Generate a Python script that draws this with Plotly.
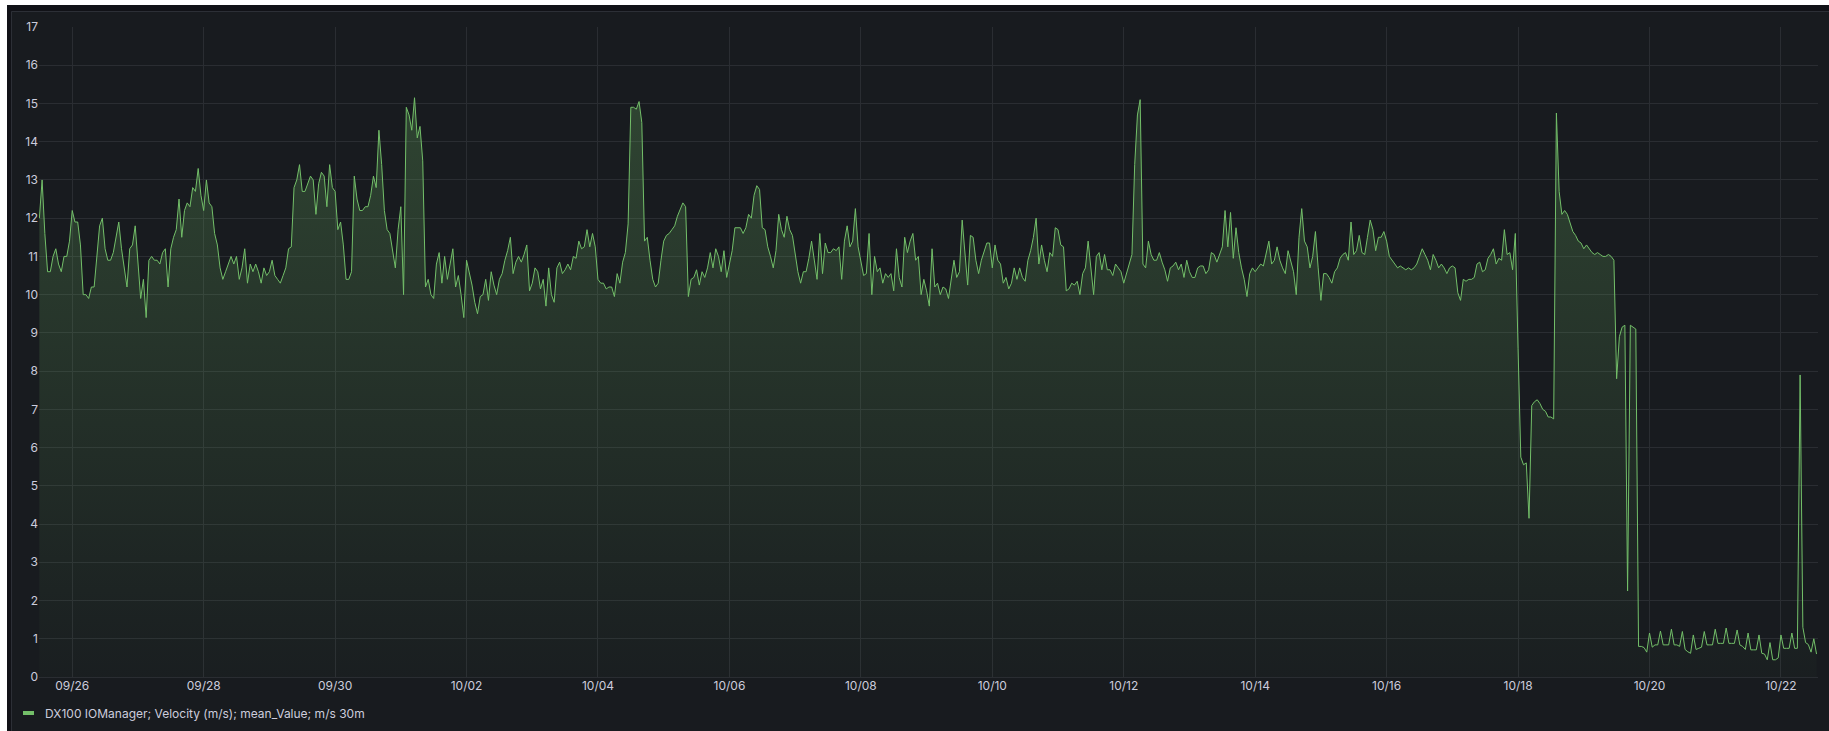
import pandas as pd
import plotly.graph_objects as go

# ---------------- data (hourly reading of the 30m mean series) ----------------
series_name = "DX100 IOManager; Velocity (m/s); mean_Value; m/s 30m"
start_time = "2023-09-25 12:00"

v_0925 = [12.0, 13.0, 11.6, 10.6, 10.6, 11.0, 11.2, 10.8, 10.6, 11.0, 11.0, 11.4]
v_0926 = [12.2, 11.9, 11.9, 11.3, 10.0, 10.0, 9.9, 10.2, 10.2, 11.0, 11.8, 12.0,
          11.2, 10.9, 10.9, 11.1, 11.5, 11.9, 11.2, 10.7, 10.2, 11.2, 11.3, 11.8]
v_0927 = [10.8, 9.9, 10.4, 9.4, 10.9, 11.0, 10.9, 10.9, 10.8, 11.1, 11.2, 10.2,
          11.2, 11.5, 11.7, 12.5, 11.5, 12.2, 12.4, 12.3, 12.8, 12.7, 13.3, 12.6]
v_0928 = [12.2, 13.0, 12.4, 12.3, 11.6, 11.3, 10.7, 10.4, 10.6, 10.8, 11.0, 10.8,
          11.0, 10.4, 10.7, 11.2, 10.3, 10.8, 10.6, 10.8, 10.6, 10.3, 10.7, 10.5]
v_0929 = [10.6, 10.9, 10.5, 10.4, 10.3, 10.5, 10.7, 11.2, 11.25, 12.8, 13.0, 13.4,
          12.7, 12.7, 12.9, 13.1, 13.0, 12.1, 12.9, 13.2, 13.1, 12.3, 13.4, 12.8]
v_0930 = [12.7, 11.7, 11.9, 11.3, 10.4, 10.4, 10.6, 13.1, 12.5, 12.2, 12.2, 12.3,
          12.3, 12.6, 13.1, 12.8, 14.3, 13.4, 12.2, 11.7, 11.6, 11.2, 10.7, 11.7]
v_1001 = [12.3, 10.0, 14.9, 14.7, 14.3, 15.15, 14.1, 14.4, 13.5, 10.2, 10.4, 10.0,
          9.9, 10.8, 11.1, 10.3, 11.0, 10.4, 10.8, 11.2, 10.2, 10.5, 10.0, 9.4]
v_1002 = [10.9, 10.6, 10.25, 9.8, 9.5, 9.95, 10.0, 10.4, 9.85, 10.6, 10.25, 10.0,
          10.4, 10.55, 10.9, 11.15, 11.5, 10.55, 10.85, 11.0, 10.85, 11.05, 11.3, 10.1]
v_1003 = [10.3, 10.7, 10.6, 10.15, 10.4, 9.7, 10.7, 10.0, 9.8, 10.7, 10.85, 10.55,
          10.65, 10.8, 10.65, 11.0, 10.95, 11.4, 11.2, 11.25, 11.7, 11.25, 11.6, 11.25]
v_1004 = [10.4, 10.3, 10.3, 10.15, 10.2, 10.2, 9.95, 10.55, 10.3, 10.85, 11.1, 11.85,
          14.9, 14.9, 14.85, 15.05, 14.5, 11.4, 11.5, 10.9, 10.4, 10.2, 10.3, 10.9]
v_1005 = [11.4, 11.55, 11.6, 11.7, 11.8, 12.05, 12.25, 12.4, 12.3, 9.95, 10.4, 10.45,
          10.65, 10.25, 10.6, 10.45, 10.7, 11.1, 10.7, 11.2, 11.0, 10.6, 11.15, 10.45]
v_1006 = [10.8, 11.15, 11.75, 11.75, 11.75, 11.6, 11.75, 12.1, 12.0, 12.6, 12.85, 12.75,
          11.75, 11.7, 11.25, 11.0, 10.7, 11.15, 12.1, 11.7, 11.5, 12.05, 11.7, 11.55]
v_1007 = [11.1, 10.6, 10.3, 10.6, 10.6, 10.95, 11.4, 10.9, 10.4, 11.6, 10.55, 11.35,
          11.1, 11.1, 11.2, 11.15, 11.25, 10.4, 11.4, 11.8, 11.25, 11.4, 12.25, 11.25]
v_1008 = [10.85, 10.5, 10.55, 11.6, 10.0, 11.0, 10.6, 10.7, 10.3, 10.55, 10.45, 10.55,
          10.1, 11.2, 10.45, 10.2, 11.5, 11.1, 11.4, 11.6, 10.9, 11.0, 10.0, 10.4]
v_1009 = [10.1, 9.7, 11.2, 10.2, 10.3, 10.0, 10.2, 10.15, 9.9, 10.45, 10.9, 10.45,
          10.6, 11.95, 11.15, 10.25, 11.55, 11.5, 10.9, 10.55, 10.9, 11.1, 11.35, 11.35]
v_1010 = [10.7, 11.3, 10.9, 10.8, 10.3, 10.45, 10.15, 10.3, 10.7, 10.4, 10.7, 10.45,
          10.35, 10.9, 11.15, 11.5, 12.0, 10.8, 11.3, 10.9, 10.6, 11.1, 11.0, 11.75]
v_1011 = [11.7, 11.3, 11.25, 10.1, 10.15, 10.3, 10.25, 10.35, 10.0, 10.55, 10.7, 11.4,
          10.75, 10.0, 11.0, 11.1, 10.65, 11.05, 10.65, 10.65, 10.5, 10.8, 10.7, 10.6]
v_1012 = [10.3, 10.55, 10.8, 11.05, 13.4, 14.7, 15.1, 10.8, 10.7, 11.4, 11.05, 10.9,
          10.9, 11.1, 10.85, 10.65, 10.35, 10.7, 10.75, 10.85, 10.65, 10.8, 10.45, 10.9]
v_1013 = [10.6, 10.45, 10.45, 10.7, 10.75, 10.75, 10.55, 10.65, 11.1, 11.05, 10.85, 11.05,
          11.25, 12.2, 11.25, 12.15, 10.95, 11.75, 11.1, 10.7, 10.4, 9.95, 10.55, 10.7]
v_1014 = [10.6, 10.7, 10.8, 10.75, 11.05, 11.4, 10.8, 10.9, 11.25, 10.9, 10.7, 10.55,
          11.15, 10.85, 10.6, 10.0, 11.5, 12.25, 11.4, 11.25, 10.7, 11.0, 11.65, 10.7]
v_1015 = [9.85, 10.55, 10.55, 10.45, 10.3, 10.6, 10.7, 10.95, 11.05, 11.1, 10.9, 11.9,
          11.05, 11.15, 11.55, 11.1, 11.05, 11.5, 11.95, 11.7, 11.15, 11.5, 11.5, 11.65]
v_1016 = [11.4, 11.0, 10.9, 10.8, 10.7, 10.75, 10.7, 10.65, 10.7, 10.65, 10.7, 10.8,
          11.0, 11.2, 11.05, 10.9, 10.65, 11.05, 10.9, 10.7, 10.8, 10.7, 10.55, 10.7]
v_1017 = [10.75, 10.7, 10.05, 9.85, 10.4, 10.35, 10.4, 10.4, 10.45, 10.8, 10.85, 10.6,
          10.65, 10.95, 11.05, 11.2, 10.8, 10.95, 10.9, 11.7, 11.05, 11.1, 10.65, 11.6]
v_1018 = [8.6, 5.75, 5.55, 5.6, 4.15, 7.1, 7.2, 7.25, 7.15, 7.0, 6.95, 6.8,
          6.8, 6.75, 14.75, 12.7, 12.1, 12.2, 12.1, 11.85, 11.65, 11.55, 11.4, 11.35]
v_1019 = [11.2, 11.3, 11.2, 11.1, 11.05, 11.1, 11.05, 11.0, 11.0, 11.05, 11.0, 10.9,
          7.8, 8.9, 9.15, 9.2, 2.25, 9.2, 9.15, 9.1, 0.8, 0.8, 0.77, 0.65]
v_1020 = [1.15, 0.78, 0.84, 0.84, 1.2, 0.84, 0.84, 0.84, 1.25, 0.84, 0.84, 0.8,
          1.19, 0.72, 0.66, 0.62, 1.1, 0.72, 0.75, 0.78, 1.19, 0.84, 0.84, 0.84]
v_1021 = [1.25, 0.88, 0.88, 0.88, 1.28, 0.88, 0.88, 0.88, 1.23, 0.84, 0.8, 0.72,
          1.15, 0.71, 0.71, 0.71, 1.1, 0.62, 0.6, 0.45, 0.9, 0.45, 0.45, 0.5]
v_1022 = [1.1, 0.75, 0.75, 0.75, 1.15, 0.75, 0.75, 7.9, 1.3, 0.9, 0.85, 0.65, 1.0, 0.6]

daily_values = [v_0925, v_0926, v_0927, v_0928, v_0929, v_0930, v_1001, v_1002,
                v_1003, v_1004, v_1005, v_1006, v_1007, v_1008, v_1009, v_1010,
                v_1011, v_1012, v_1013, v_1014, v_1015, v_1016, v_1017, v_1018,
                v_1019, v_1020, v_1021, v_1022]
velocity = [v for day in daily_values for v in day]
times = pd.date_range(start_time, periods=len(velocity), freq="1h")

x_range = ["2023-09-25 11:52", "2023-10-22 13:32"]
y_ticks = list(range(0, 18))

# ---------------- styling ----------------
W, H = 1829, 731
ML, MR, MT, MB = 39, 11, 27, 54
PW, PH = W - ML - MR, H - MT - MB

def px_x(p):
    return (p - ML) / PW

def px_y(p):
    return (H - MB - p) / PH

LINE = "#73BF69"
PANEL = "#181b1f"
GRID = "#2a2d32"
TEXT = "#ccccdc"
FONT = "Inter, Roboto, sans-serif"

fig = go.Figure()
fig.add_trace(go.Scatter(
    x=times, y=velocity, mode="lines", name=series_name,
    line=dict(color=LINE, width=1),
    fill="tozeroy",
    fillgradient=dict(
        type="vertical", start=0, stop=17,
        colorscale=[[0, "rgba(115,191,105,0.02)"], [1, "rgba(115,191,105,0.28)"]],
    ),
    showlegend=False,
    hoverinfo="x+y",
))

shapes = [
    # white page margins (top and left)
    dict(type="rect", xref="paper", yref="paper", x0=px_x(-2), x1=px_x(W + 2),
         y0=px_y(5), y1=px_y(-2), fillcolor="#ffffff", line=dict(width=0), layer="above"),
    dict(type="rect", xref="paper", yref="paper", x0=px_x(-2), x1=px_x(7),
         y0=px_y(H + 2), y1=px_y(-2), fillcolor="#ffffff", line=dict(width=0), layer="above"),
    # dark canvas strip between page margin and panel border
    dict(type="rect", xref="paper", yref="paper", x0=px_x(7), x1=px_x(W + 2),
         y0=px_y(11), y1=px_y(5), fillcolor="#111217", line=dict(width=0), layer="below"),
    dict(type="rect", xref="paper", yref="paper", x0=px_x(7), x1=px_x(11),
         y0=px_y(H + 2), y1=px_y(5), fillcolor="#111217", line=dict(width=0), layer="below"),
    # panel border
    dict(type="rect", xref="paper", yref="paper", x0=px_x(11.5), x1=px_x(W + 5),
         y0=px_y(H + 5), y1=px_y(11.5), fillcolor="rgba(0,0,0,0)",
         line=dict(color="#2c2f36", width=1), layer="below"),
    # legend marker
    dict(type="line", xref="paper", yref="paper", x0=px_x(23), x1=px_x(34),
         y0=px_y(713), y1=px_y(713), line=dict(color=LINE, width=4), layer="above"),
]

fig.update_layout(
    width=W, height=H,
    margin=dict(l=ML, r=MR, t=MT, b=MB, pad=0, autoexpand=False),
    paper_bgcolor=PANEL, plot_bgcolor=PANEL,
    font=dict(family=FONT, size=12, color=TEXT),
    showlegend=False,
    shapes=shapes,
    annotations=[dict(
        text=series_name, xref="paper", yref="paper",
        x=px_x(43), y=px_y(713), xanchor="left", yanchor="middle",
        showarrow=False, font=dict(family=FONT, size=12, color=TEXT),
    )],
    xaxis=dict(
        type="date", range=x_range, tickformat="%m/%d",
        tick0="2023-09-26", dtick=2 * 86400000, automargin=False,
        showgrid=True, gridcolor=GRID, gridwidth=1,
        zeroline=False, showline=False, ticks="",
        tickfont=dict(family=FONT, size=12, color=TEXT),
    ),
    yaxis=dict(
        range=[0, 17], tickmode="array", tickvals=y_ticks, automargin=False,
        showgrid=True, gridcolor=GRID, gridwidth=1,
        zeroline=True, zerolinecolor=GRID, zerolinewidth=1,
        showline=False, ticks="",
        tickfont=dict(family=FONT, size=12, color=TEXT),
    ),
)

# remove the default 8px page margin so the figure sits at the window origin
fig.write_html("out.html",
               config={"displayModeBar": False},
               post_script="document.body.style.margin='0';document.body.style.overflow='hidden';")
